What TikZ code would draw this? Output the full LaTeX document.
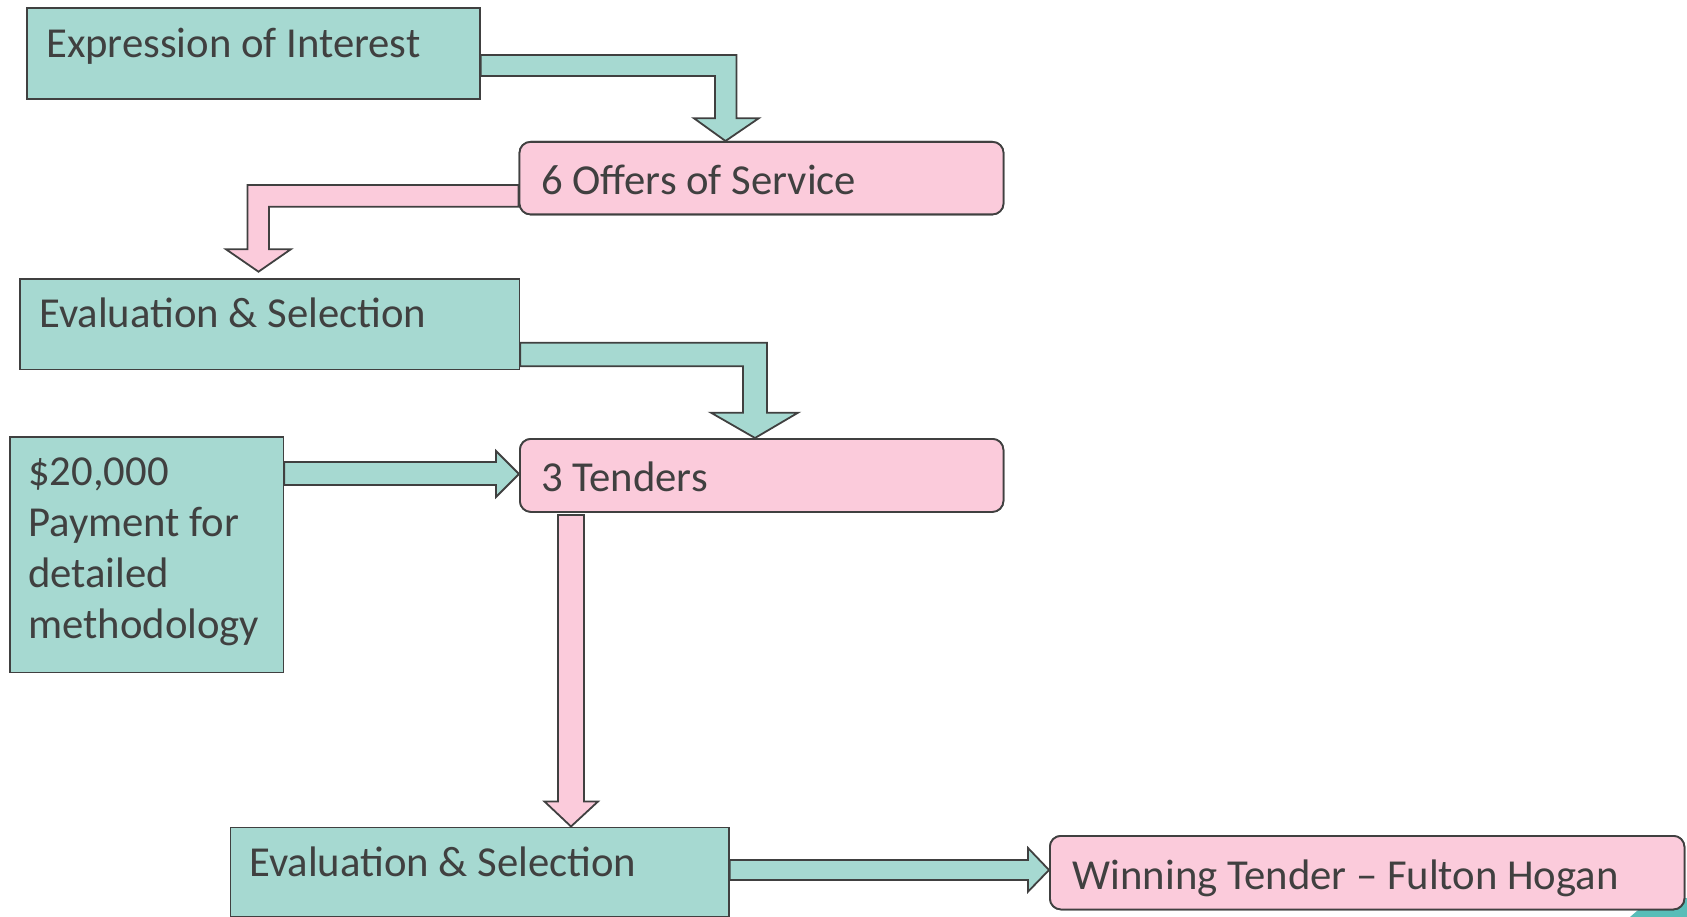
\documentclass[tikz,border=0pt]{standalone}
\usepackage{fontspec}
\setmainfont{Carlito}
\usetikzlibrary{calc}
\definecolor{tealfill}{RGB}{166,217,209}
\definecolor{pinkfill}{RGB}{251,203,219}
\definecolor{edgecol}{RGB}{64,64,64}
\definecolor{txtcol}{RGB}{64,64,64}
\definecolor{decocol}{RGB}{88,189,184}
\begin{document}
\begin{tikzpicture}[x=1pt,y=-1pt,
  box/.style={draw=edgecol,line width=1.8pt,inner sep=0pt,anchor=north west},
  tealbox/.style={box,fill=tealfill},
  pinkbox/.style={box,fill=pinkfill,rounded corners=11pt},
  lbl/.style={anchor=base west,inner sep=0pt,text=txtcol,font=\fontsize{42.7}{51.5}\selectfont},
  tealarrow/.style={draw=edgecol,line width=1.8pt,fill=tealfill},
  pinkarrow/.style={draw=edgecol,line width=1.8pt,fill=pinkfill}]
\useasboundingbox (0,0) rectangle (1687,917);
% corner decoration
\fill[decocol] (1630,917) -- (1652,898) -- (1687,898) -- (1687,917) -- cycle;
% boxes (coordinates only first, drawn later)
\path (26,7.5) node[tealbox,minimum width=453pt,minimum height=90.5pt] (eoi) {};
\path (518.6,141) node[pinkbox,minimum width=484pt,minimum height=72.5pt] (offers) {};
\path (19,278) node[tealbox,minimum width=499.5pt,minimum height=90.5pt] (eval1) {};
\path (9,436) node[tealbox,minimum width=273.5pt,minimum height=235.5pt] (pay) {};
\path (519,438) node[pinkbox,minimum width=483.5pt,minimum height=73pt] (tenders) {};
\path (229.5,826.5) node[tealbox,minimum width=498.5pt,minimum height=89.5pt] (eval2) {};
\path (1049,835) node[pinkbox,minimum width=634.5pt,minimum height=73.5pt] (win) {};
% block arrows
\draw[tealarrow] (eoi.east |- 0,55) -- (736.5,55) -- (736.5,118.3) -- (758.7,118.3)
  -- (725.5,0 |- offers.north) -- (694,118.3) -- (715,118.3) -- (715,76) -- (eoi.east |- 0,76) -- cycle;
\draw[pinkarrow] (offers.west |- 0,185) -- (247.4,185) -- (247.4,249.3) -- (226,249.3)
  -- (258.5,271.7) -- (290.8,249.3) -- (268.9,249.3) -- (268.9,206.7) -- (offers.west |- 0,206.7) -- cycle;
\draw[tealarrow] (eval1.east |- 0,342.7) -- (767,342.7) -- (767,412.7) -- (798,412.7)
  -- (755,0 |- tenders.north) -- (711,412.7) -- (743,412.7) -- (743,366.3) -- (eval1.east |- 0,366.3) -- cycle;
\draw[tealarrow] (pay.east |- 0,462) -- (496,462) -- (496,451) -- (tenders.west |- 0,474)
  -- (496,497) -- (496,485) -- (pay.east |- 0,485) -- cycle;
\draw[pinkarrow] (558,515) -- (584,515) -- (584,801.5) -- (598,801.5)
  -- (571,0 |- eval2.north) -- (544.5,801.5) -- (558,801.5) -- cycle;
\draw[tealarrow] (eval2.east |- 0,860) -- (1028,860) -- (1028,848) -- (win.west |- 0,870)
  -- (1028,891.7) -- (1028,880) -- (eval2.east |- 0,880) -- cycle;
% redraw boxes on top
\path (26,7.5) node[tealbox,minimum width=453pt,minimum height=90.5pt] (eoiB) {};
\path (518.6,141) node[pinkbox,minimum width=484pt,minimum height=72.5pt] (offersB) {};
\path (19,278) node[tealbox,minimum width=499.5pt,minimum height=90.5pt] (eval1B) {};
\path (9,436) node[tealbox,minimum width=273.5pt,minimum height=235.5pt] (payB) {};
\path (519,438) node[pinkbox,minimum width=483.5pt,minimum height=73pt] (tendersB) {};
\path (229.5,826.5) node[tealbox,minimum width=498.5pt,minimum height=89.5pt] (eval2B) {};
\path (1049,835) node[pinkbox,minimum width=634.5pt,minimum height=73.5pt] (winB) {};
% texts
\node[lbl] (eoiT) at (46,57.3) {Expression of Interest};
\node[lbl] (offersT) at (541,195) {6 Offers of Service};
\node[lbl] (eval1T) at (39,327.7) {Evaluation \& Selection};
\node[lbl] (tendersT) at (541,491.7) {3 Tenders};
\node[lbl] (payT1) at (28,485) {\$20,000};
\node[lbl] (payT2) at (28,536) {Payment for};
\node[lbl] (payT3) at (28,587) {detailed};
\node[lbl] (payT4) at (28,638) {methodology};
\node[lbl] (eval2T) at (249,876.7) {Evaluation \& Selection};
\node[lbl] (winT) at (1072.5,889) {Winning Tender – Fulton Hogan};
\end{tikzpicture}
\end{document}
